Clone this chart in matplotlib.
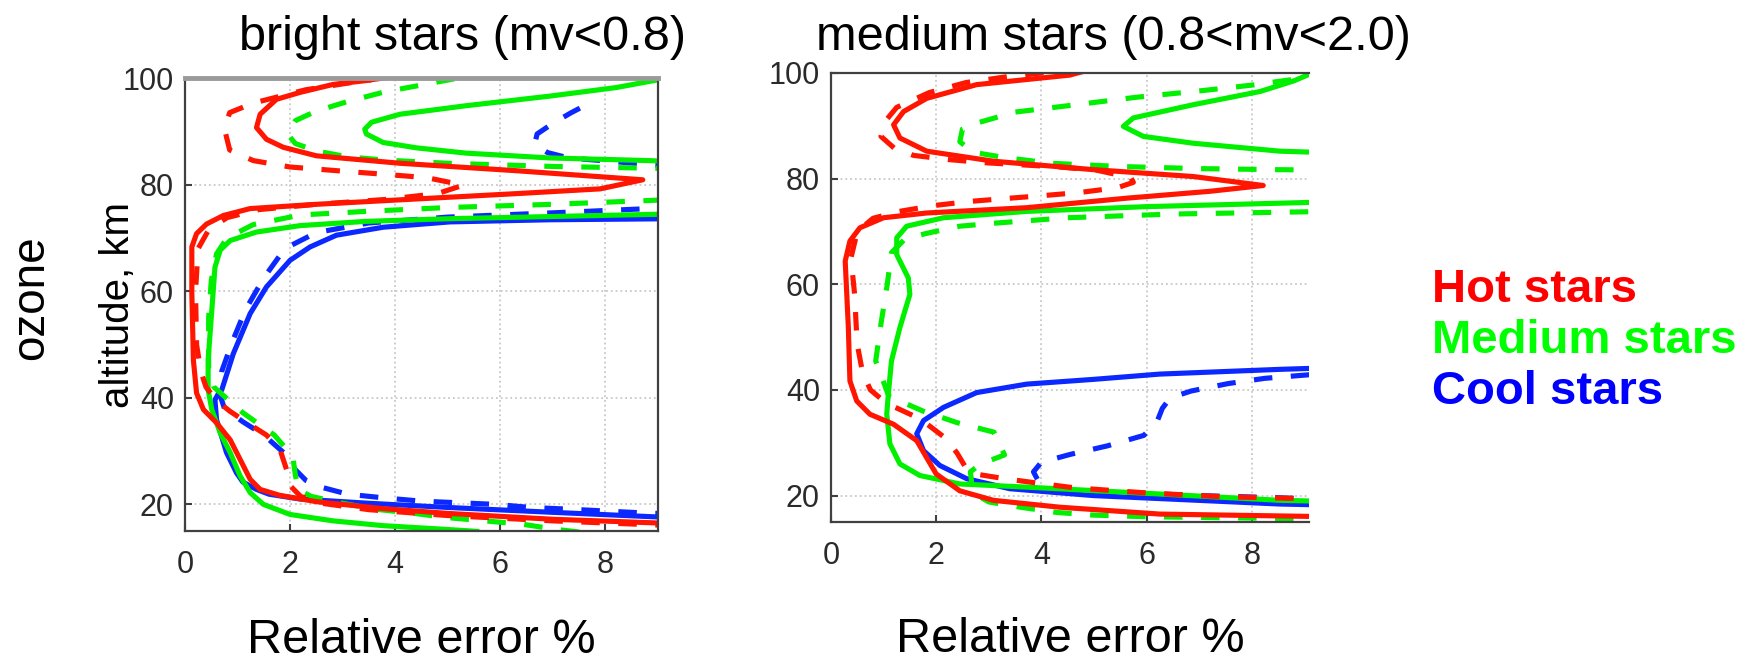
import numpy as np
import matplotlib.pyplot as plt

plt.rcParams['font.family'] = ['Liberation Sans', 'DejaVu Sans']

# ---- bright stars (mv<0.8) : relative error %, altitude km ----
bright_hot_x = [9.3, 7.0, 5.0, 3.77, 2.5, 1.8, 1.43, 1.24, 1.05, 0.86, 0.6, 0.35, 0.22, 0.16, 0.13, 0.13, 0.22,
                0.41, 0.73, 1.24, 2.5, 4.4, 6.3, 7.9, 8.71, 6.31, 4.09, 2.5, 1.87, 1.55, 1.36, 1.43, 1.74, 2.19,
                2.82, 3.52, 3.7]
bright_hot_y = [16.4, 17.2, 18.3, 19.2, 20.5, 21.7, 22.8, 24.7, 28.4, 32.1, 35.3, 37.8, 40.9, 47, 59.6, 68.3, 70.8,
                72.6, 74.2, 75.5, 76.3, 77.3, 78.3, 79.2, 80.9, 82.6, 84.0, 85.4, 87.0, 88.5, 90.7, 93.2, 96.0, 97.3,
                98.8, 99.6, 100.5]
bright_hot_dash_x = [9.3, 7.0, 5.0, 3.5, 2.6, 2.2, 2.0, 1.95, 1.8, 1.55, 1.2, 0.85, 0.6, 0.4, 0.3, 0.22, 0.2, 0.25,
                     0.45, 0.8, 1.4, 2.5, 3.8, 4.8, 5.3, 4.6, 3.7, 2.9, 2.0, 1.3, 0.85, 0.75, 0.85, 1.3, 2.3, 3.2,
                     4.0]
bright_hot_dash_y = [16.0, 16.9, 17.9, 19.0, 20.2, 21.5, 23.5, 26, 30.5, 33, 35.2, 37.5, 39.5, 42, 45, 50, 60, 68,
                     71.5, 73.8, 75.3, 76.3, 77.2, 78.3, 79.9, 81.3, 82.0, 82.6, 83.3, 84.5, 86.5, 90.5, 93.5, 95.3,
                     97.8, 99.2, 100.3]
bright_med_x = [5.6, 4.97, 3.77, 2.82, 2.0, 1.49, 1.24, 1.05, 0.86, 0.67, 0.51, 0.44, 0.44, 0.51, 0.57, 0.67, 0.86,
                1.36, 2.19, 3.45, 5.04, 6.94, 9.3]
bright_med_y = [14.9, 15.3, 16.0, 16.9, 18.1, 20.0, 22.2, 25.3, 29.7, 33.4, 37.8, 41.5, 47.1, 56.4, 64.5, 67.7, 69.5,
                71.1, 72.3, 73.1, 73.6, 74.0, 74.5]
bright_med_top_x = [9.3, 8.84, 6.94, 5.35, 4.4, 3.77, 3.45, 3.42, 3.55, 4.09, 5.35, 6.94, 8.2, 8.97, 9.3]
bright_med_top_y = [84.3, 84.5, 85.0, 85.9, 86.9, 87.9, 89.5, 90.4, 91.7, 93.2, 94.8, 96.6, 98.2, 99.6, 100.1]
bright_med_dash_x = [7.5, 7.07, 6.4, 5.7, 5.0, 4.28, 3.61, 2.95, 2.4, 2.15, 2.1, 2.05, 1.7, 1.1, 0.55, 0.45, 0.45,
                     0.5, 0.6, 0.8, 1.3, 2.2, 3.5, 5.0, 7.0, 9.3]
bright_med_dash_y = [14.8, 15.3, 16.3, 16.9, 17.5, 18.4, 19.1, 20.3, 21.5, 22.8, 25.5, 29.0, 33.0, 37.2, 42.0, 45,
                     55, 62, 67, 70, 72.5, 74.3, 75.0, 75.7, 76.3, 77.2]
bright_med_dash_top_x = [9.3, 7.0, 5.0, 3.8, 3.1, 2.5, 2.1, 1.95, 2.1, 2.5, 3.1, 3.8, 4.4, 5.1, 5.4]
bright_med_dash_top_y = [83.0, 83.4, 84.0, 84.6, 85.2, 86.3, 87.7, 89.5, 92.0, 93.8, 95.6, 97.4, 98.5, 99.8, 100.5]
bright_cool_x = [9.3, 7.0, 5.04, 3.5, 2.19, 1.6, 1.36, 1.1, 0.98, 0.79, 0.6, 0.57, 0.62, 0.7, 0.92, 1.24, 1.55, 2.0,
                 2.38, 2.88, 3.77, 5.04, 6.94, 9.3]
bright_cool_y = [17.5, 18.5, 19.4, 20.2, 21.0, 21.9, 22.8, 24.2, 25.9, 29.7, 35.9, 39.6, 40.5, 41.5, 48.3, 55.8,
                 60.8, 65.8, 68.3, 70.5, 72.0, 73.0, 73.4, 73.6]
bright_cool_dash_x = [9.3, 8.7, 8.0, 7.3, 6.6, 5.9, 5.2, 4.5, 3.8, 3.1, 2.6, 2.3, 2.1, 1.9, 1.5, 1.1, 0.75, 0.65,
                      0.7, 0.9, 1.15, 1.5, 1.9, 2.5, 3.5, 5.0, 7.0, 9.3]
bright_cool_dash_y = [18.2, 18.4, 18.75, 19.1, 19.4, 20.0, 20.3, 20.6, 21.2, 21.9, 23.2, 24.5, 26.5, 29.5, 33, 35.5,
                      38, 41, 45, 50.5, 56.5, 62.5, 68, 71, 72.8, 73.9, 74.7, 75.7]
bright_cool_dash_top_x = [9.3, 8.3, 7.3, 6.9, 6.65, 6.7, 7.0, 7.35, 7.7]
bright_cool_dash_top_y = [83.4, 84.2, 85.0, 86.0, 87.5, 89.5, 91.5, 93.5, 95.3]

# ---- medium stars (0.8<mv<2.0) ----
medium_hot_x = [9.5, 6.25, 4.35, 3.09, 2.45, 2.0, 1.63, 1.19, 0.74, 0.49, 0.36, 0.33, 0.27, 0.36, 0.55, 1.0, 1.82,
                3.72, 5.62, 7.2, 8.22, 6.89, 4.99, 3.09, 1.82, 1.31, 1.19, 1.38, 1.82, 2.77, 4.54, 4.8]
medium_hot_y = [16.0, 16.5, 17.8, 19.1, 20.9, 24.1, 30.4, 33.5, 35.4, 37.9, 41.7, 51.8, 64.4, 68.2, 70.7, 72.6, 73.5,
                74.5, 76.3, 77.6, 78.7, 80.4, 81.7, 83.3, 85.2, 87.7, 90.2, 92.7, 95.2, 97.8, 99.6, 100.3]
medium_hot_dash_x = [9.5, 7.4, 6.0, 5.3, 4.6, 3.9, 3.3, 2.8, 2.55, 2.4, 2.2, 1.7, 1.05, 0.75, 0.6, 0.5, 0.48, 0.45,
                     0.38, 0.5, 0.8, 1.3, 1.95, 2.65, 3.4, 4.05, 4.75, 5.45, 5.75, 5.7, 5.05, 4.35, 3.65, 2.95, 2.25,
                     1.57, 1.2, 0.95, 1.0, 1.25, 1.87, 2.57, 3.35, 4.2]
medium_hot_dash_y = [19.3, 19.8, 20.5, 21.0, 21.5, 22.4, 23.2, 24.0, 25.5, 28.0, 30.7, 34.5, 37.5, 40.0, 43.3, 48.6,
                     52.0, 58, 65, 70, 72.5, 73.8, 74.9, 75.7, 76.3, 76.8, 77.4, 78.3, 79.3, 80.2, 81.6, 82.2, 82.6,
                     83.0, 83.6, 84.4, 85.8, 88.0, 90.5, 93.5, 96.3, 98.2, 99.3, 100.2]
medium_med_x = [9.5, 8.54, 6.25, 3.72, 2.45, 1.69, 1.31, 1.12, 1.06, 1.09, 1.15, 1.31, 1.5, 1.47, 1.25, 1.25, 1.44,
                2.14, 3.72, 6.0, 9.5]
medium_med_y = [18.9, 19.1, 20.3, 21.6, 22.2, 23.8, 26.0, 29.8, 35.4, 39.2, 45.5, 51.8, 58.1, 61.2, 65.6, 68.8, 71.0,
                72.6, 73.8, 74.7, 75.6]
medium_med_top_x = [9.5, 8.54, 6.89, 5.94, 5.56, 5.75, 6.89, 8.16, 8.8, 9.2]
medium_med_top_y = [84.9, 85.2, 86.7, 88.0, 89.9, 91.5, 94.0, 96.5, 98.5, 100.2]
medium_med_dash_x = [9.5, 8.4, 6.0, 5.0, 4.3, 3.6, 3.0, 2.7, 2.65, 2.85, 3.3, 3.1, 2.4, 1.75, 1.1, 0.85, 0.95, 1.07,
                     1.15, 1.4, 1.8, 2.45, 3.15, 4.5, 6.5, 9.5]
medium_med_dash_y = [15.5, 15.7, 16.0, 16.3, 16.8, 17.8, 18.8, 20.5, 24.5, 26.0, 27.7, 32.0, 33.8, 36.0, 38.8, 45.5,
                     52.5, 60.0, 66.0, 68.5, 69.6, 71.0, 71.6, 72.6, 73.3, 73.8]
medium_med_dash_top_x = [9.5, 8.5, 7.0, 5.5, 4.2, 3.3, 2.7, 2.45, 2.5, 2.8, 3.5, 4.5, 5.8, 7.0, 8.0, 8.8, 9.3]
medium_med_dash_top_y = [81.6, 81.7, 81.9, 82.3, 82.9, 84.0, 85.0, 87.0, 89.4, 90.6, 92.6, 93.8, 95.4, 96.6, 97.7,
                         98.8, 100.2]
medium_cool_x = [9.5, 8.54, 4.99, 3.4, 2.58, 2.07, 1.76, 1.63, 1.76, 2.14, 2.77, 3.72, 4.99, 6.25, 8.54, 9.5]
medium_cool_y = [18.2, 18.4, 20.0, 21.3, 23.2, 25.7, 28.5, 31.7, 34.2, 36.7, 39.5, 41.1, 42.0, 43.0, 43.9, 44.2]
medium_cool_dash_x = [9.5, 8.5, 7.0, 6.0, 5.0, 4.3, 3.95, 3.85, 4.0, 4.55, 5.25, 5.95, 6.2, 6.3, 6.45, 6.85, 7.55,
                      8.25, 9.5]
medium_cool_dash_y = [19.2, 19.6, 20.0, 20.4, 20.9, 21.6, 22.6, 24.5, 26.3, 27.8, 29.4, 31.4, 34.0, 36.5, 38.5, 39.8,
                      41.2, 42.2, 43.2]

RED = '#ff1500'
GREEN = '#00f000'
BLUE = '#0a28ff'
LW = 3.7
DASH = (0, (3.6, 3.6))

fig = plt.figure(figsize=(17.54, 6.61), dpi=100)
ax1 = fig.add_axes([185 / 1754, 1 - 531 / 661, 473 / 1754, 453 / 661])
ax2 = fig.add_axes([831 / 1754, 1 - 522 / 661, 478 / 1754, 449 / 661])


def draw(ax, curves):
    for x, y, c, ls in curves:
        ax.plot(x, y, color=c, lw=LW, linestyle=ls, solid_capstyle='butt', dash_capstyle='butt')


draw(ax1, [
    (bright_cool_x, bright_cool_y, BLUE, '-'),
    (bright_cool_dash_x, bright_cool_dash_y, BLUE, DASH),
    (bright_cool_dash_top_x, bright_cool_dash_top_y, BLUE, DASH),
    (bright_med_x, bright_med_y, GREEN, '-'),
    (bright_med_top_x, bright_med_top_y, GREEN, '-'),
    (bright_med_dash_x, bright_med_dash_y, GREEN, DASH),
    (bright_med_dash_top_x, bright_med_dash_top_y, GREEN, DASH),
    (bright_hot_x, bright_hot_y, RED, '-'),
    (bright_hot_dash_x, bright_hot_dash_y, RED, DASH),
])
draw(ax2, [
    (medium_cool_x, medium_cool_y, BLUE, '-'),
    (medium_cool_dash_x, medium_cool_dash_y, BLUE, DASH),
    (medium_med_x, medium_med_y, GREEN, '-'),
    (medium_med_top_x, medium_med_top_y, GREEN, '-'),
    (medium_med_dash_x, medium_med_dash_y, GREEN, DASH),
    (medium_med_dash_top_x, medium_med_dash_top_y, GREEN, DASH),
    (medium_hot_x, medium_hot_y, RED, '-'),
    (medium_hot_dash_x, medium_hot_dash_y, RED, DASH),
])

ax1.set_xlim(0, 9.0)
ax2.set_xlim(0, 9.09)
for ax in (ax1, ax2):
    ax.set_ylim(15, 100)
    ax.set_xticks([0, 2, 4, 6, 8])
    ax.set_yticks([20, 40, 60, 80, 100])
    ax.grid(True, linestyle=':', color='#c8c8c8', lw=1.3)
    ax.set_axisbelow(True)
    ax.tick_params(direction='in', length=5, width=1.5, color='#404040',
                   labelsize=22, labelcolor='#2a2a2a')
    ax.tick_params(axis='x', pad=14)
    ax.tick_params(axis='y', pad=8)
    for s in ax.spines.values():
        s.set_color('#404040')
        s.set_linewidth(1.6)

ax1.set_xlabel('Relative error %', fontsize=35, labelpad=27)
ax2.set_xlabel('Relative error %', fontsize=35, labelpad=33)

ax1.spines['top'].set_color('#9a9a9a')
ax1.spines['top'].set_linewidth(3.5)
ax2.spines['right'].set_visible(False)
ax2.tick_params(right=False)

ax1.set_ylabel('altitude, km', fontsize=29, labelpad=-10)

fig.text(462 / 1754, 1 - 37 / 661, 'bright stars (mv<0.8)', fontsize=35, ha='center', va='center')
fig.text(1113 / 1754, 1 - 37 / 661, 'medium stars (0.8<mv<2.0)', fontsize=35, ha='center', va='center')
fig.text(31 / 1754, 1 - 298 / 661, 'ozone', fontsize=33, rotation=90, ha='center', va='center')

legend_labels = ['Hot stars', 'Medium stars', 'Cool stars']
legend_colors = ['#ff0000', '#00ff00', '#0000ff']
for i, (lab, col) in enumerate(zip(legend_labels, legend_colors)):
    fig.text(1432 / 1754, 1 - (302 + 51 * i) / 661, lab, fontsize=34, fontweight='bold',
             color=col, ha='left', va='baseline')

fig.savefig('out.png', dpi=100)
